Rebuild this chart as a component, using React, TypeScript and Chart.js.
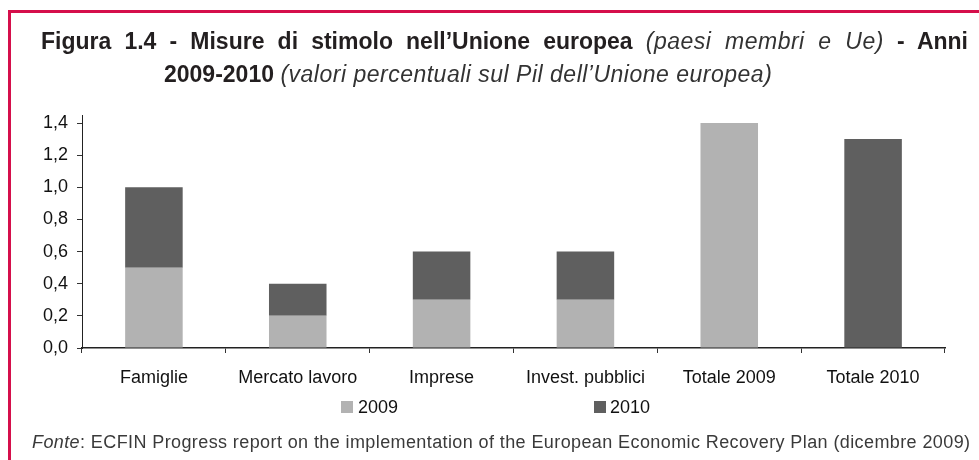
import React, { useEffect, useRef } from 'react';
import { Chart, registerables } from 'chart.js';

Chart.register(...registerables);

const categories = ['Famiglie', 'Mercato lavoro', 'Imprese', 'Invest. pubblici', 'Totale 2009', 'Totale 2010'];
const values2009 = [0.5, 0.2, 0.3, 0.3, 1.4, 0];
const values2010 = [0.5, 0.2, 0.3, 0.3, 0, 1.3];
const seriesLabels = ['2009', '2010'];
const yTicks = [0, 0.2, 0.4, 0.6, 0.8, 1.0, 1.2, 1.4];

const FONT = '"Liberation Sans", Arial, Helvetica, sans-serif';
const C2009 = '#b2b2b2';
const C2010 = '#5f5f5f';

export default function App() {
  const ref = useRef<HTMLCanvasElement>(null);

  useEffect(() => {
    const chart = new Chart(ref.current as HTMLCanvasElement, {
      type: 'bar',
      data: {
        labels: categories,
        datasets: [
          { label: seriesLabels[0], data: values2009, backgroundColor: C2009, stack: 's', barPercentage: 0.4, categoryPercentage: 1 },
          { label: seriesLabels[1], data: values2010, backgroundColor: C2010, stack: 's', barPercentage: 0.4, categoryPercentage: 1 },
        ],
      },
      options: {
        responsive: false,
        animation: false,
        layout: { padding: { left: 0, right: 34, top: 115, bottom: 72 } },
        plugins: { legend: { display: false }, tooltip: { enabled: false } },
        scales: {
          x: {
            stacked: true,
            grid: { drawOnChartArea: false, drawTicks: true, tickLength: 5, color: '#333', offset: true },
            border: { color: '#222', width: 1.5 },
            ticks: { color: '#111', font: { family: FONT, size: 18 }, padding: 14, maxRotation: 0, autoSkip: false },
            afterFit: (s: any) => { s.height = 40; },
          },
          y: {
            stacked: true,
            min: 0,
            max: 1.45,
            afterBuildTicks: (s: any) => { s.ticks = yTicks.map((v) => ({ value: v })); },
            grid: { drawOnChartArea: false, tickLength: 5, color: '#333' },
            border: { color: '#222', width: 1 },
            ticks: {
              color: '#111',
              font: { family: FONT, size: 18 },
              padding: 9,
              callback: (v: any) => Number(v).toFixed(1).replace('.', ','),
            },
            afterFit: (s: any) => { s.width = 82; },
          },
        },
      },
    });
    return () => chart.destroy();
  }, []);

  const italic: React.CSSProperties = { fontStyle: 'italic', fontWeight: 'normal', color: '#333', letterSpacing: '0.5px' };

  return (
    <div style={{ position: 'fixed', left: 0, top: 0, width: 979, height: 460, overflow: 'hidden', background: '#fff', fontFamily: FONT }}>
      <div style={{ position: 'absolute', left: 8, top: 10, width: 1000, height: 500, borderTop: '3px solid #d50f4b', borderLeft: '3px solid #d50f4b', boxSizing: 'border-box' }} />
      <canvas ref={ref} width={979} height={460} style={{ position: 'absolute', left: 0, top: 0, width: 979, height: 460 }} />
      <div style={{ position: 'absolute', left: 41, top: 29.5, width: 927, fontSize: 23, lineHeight: '23px', fontWeight: 'bold', color: '#231f20', textAlign: 'justify', textAlignLast: 'justify' as any }}>
        Figura 1.4 - Misure di stimolo nell’Unione europea <span style={italic}>(paesi membri e Ue)</span> - Anni
      </div>
      <div style={{ position: 'absolute', left: 164, top: 62.5, fontSize: 23, lineHeight: '23px', fontWeight: 'bold', color: '#231f20', whiteSpace: 'nowrap' }}>
        2009-2010 <span style={italic}>(valori percentuali sul Pil dell’Unione europea)</span>
      </div>
      <div style={{ position: 'absolute', left: 341, top: 401, width: 12, height: 12, background: C2009 }} />
      <div style={{ position: 'absolute', left: 358, top: 397.5, fontSize: 18, lineHeight: '18px', color: '#111' }}>{seriesLabels[0]}</div>
      <div style={{ position: 'absolute', left: 594, top: 401, width: 12, height: 12, background: C2010 }} />
      <div style={{ position: 'absolute', left: 610, top: 397.5, fontSize: 18, lineHeight: '18px', color: '#111' }}>{seriesLabels[1]}</div>
      <div style={{ position: 'absolute', left: 32, top: 432.8, fontSize: 18, lineHeight: '18px', color: '#3a3a3a', whiteSpace: 'nowrap', letterSpacing: '0.4px' }}>
        <span style={{ fontStyle: 'italic' }}>Fonte</span>: ECFIN Progress report on the implementation of the European Economic Recovery Plan (dicembre 2009)
      </div>
    </div>
  );
}
